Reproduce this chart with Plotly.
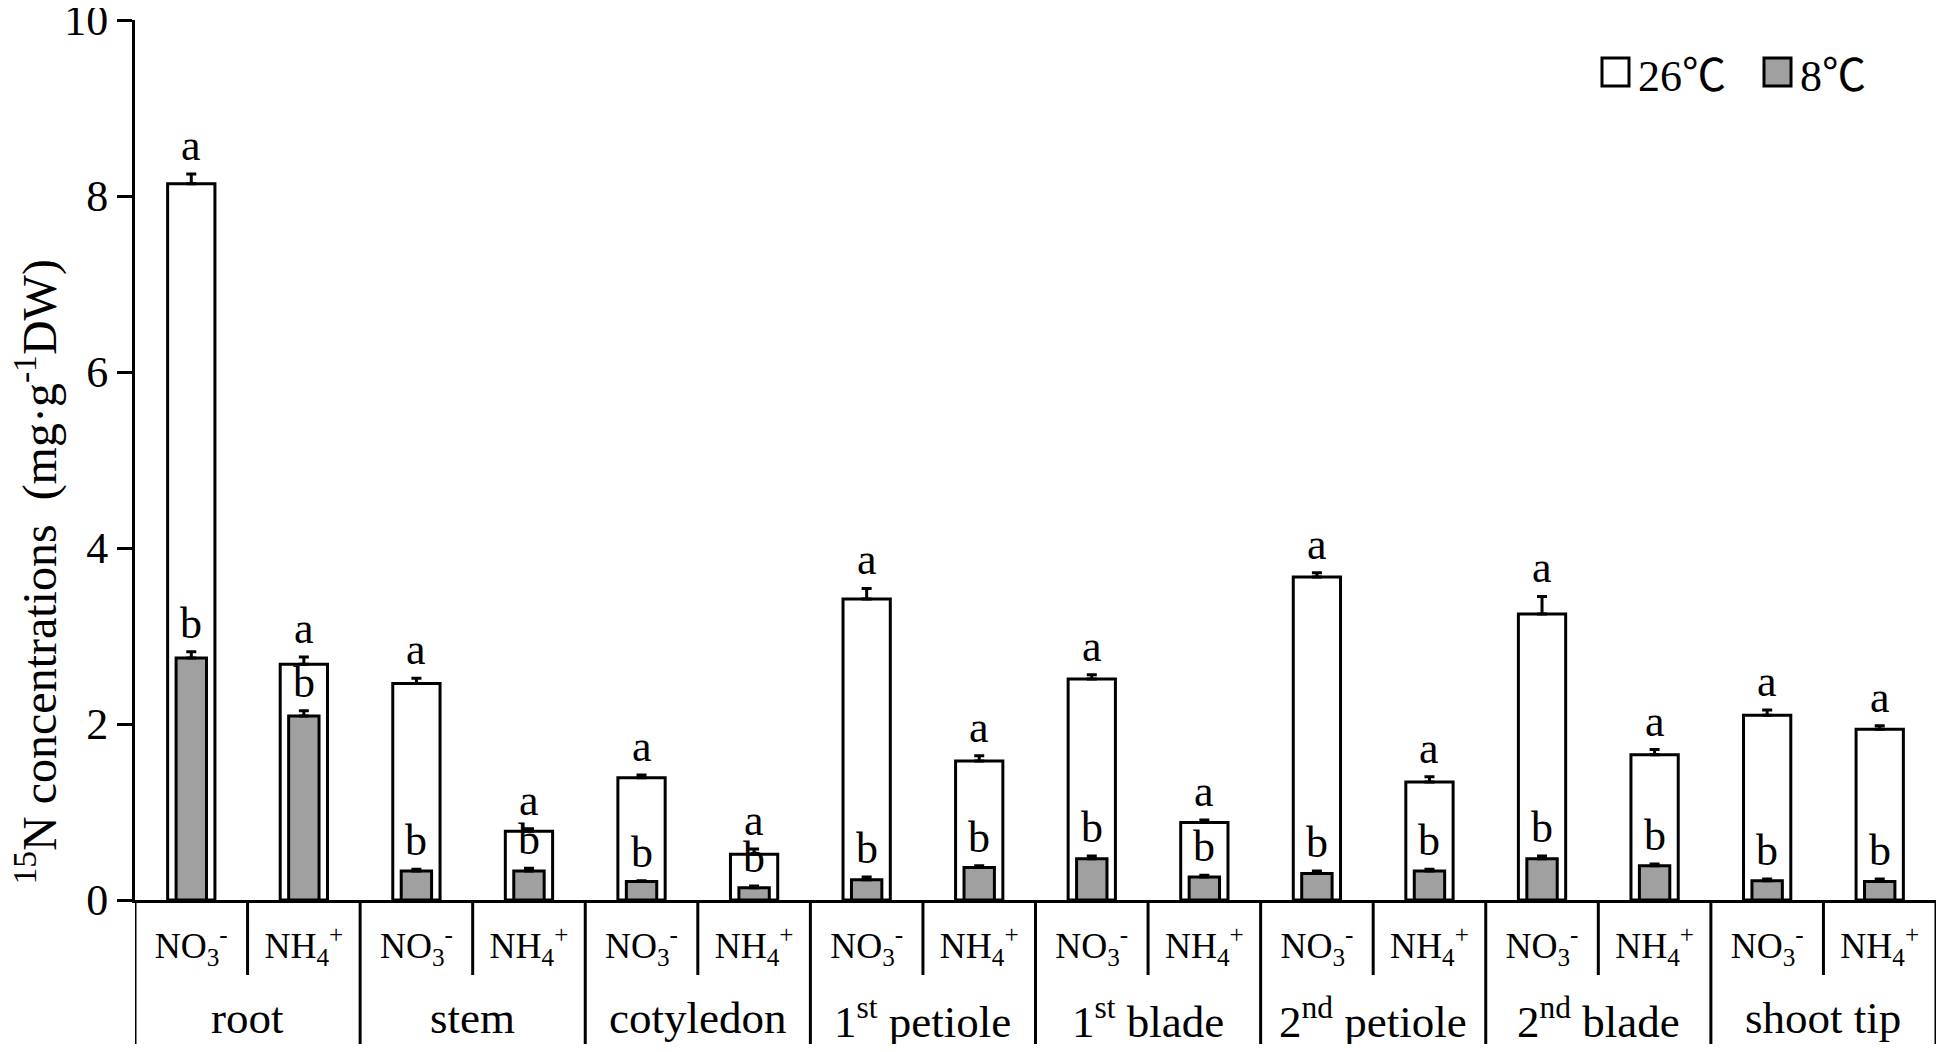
import plotly.graph_objects as go

# ---------------- data ----------------
organs = ["root", "stem", "cotyledon", "1<sup>st</sup> petiole", "1<sup>st</sup> blade",
          "2<sup>nd</sup> petiole", "2<sup>nd</sup> blade", "shoot tip"]
ions = ["NO<sub>3</sub><sup>-</sup>", "NH<sub>4</sub><sup>+</sup>"]

# order: root NO3, root NH4, stem NO3, stem NH4, ...
val_26 = [8.14, 2.68, 2.46, 0.78, 1.39, 0.52, 3.42, 1.58,
          2.51, 0.88, 3.67, 1.34, 3.25, 1.65, 2.10, 1.94]
err_26 = [0.11, 0.08, 0.06, 0.03, 0.03, 0.06, 0.12, 0.06,
          0.05, 0.03, 0.05, 0.06, 0.20, 0.06, 0.06, 0.04]
val_8 = [2.75, 2.09, 0.33, 0.33, 0.21, 0.14, 0.23, 0.37,
         0.47, 0.26, 0.30, 0.33, 0.47, 0.39, 0.22, 0.21]
err_8 = [0.07, 0.06, 0.02, 0.03, 0.01, 0.02, 0.03, 0.02,
         0.03, 0.02, 0.03, 0.02, 0.03, 0.02, 0.02, 0.03]
letters_26 = ["a"] * 16
letters_8 = ["b"] * 16
series_names = ["26℃", "8℃"]

# ---------------- figure ----------------
FONT = "Liberation Serif, Times New Roman, serif"
CJK = "Noto Sans CJK SC"
OFF = 8  # default page body margin
W, H = 1930, 1036
ML, MR, MT, MB = 127, 2, 12, 144
PH = H - MT - MB
PW = W - ML - MR

def px_x(p):
    return (p - OFF - ML) / PW
def px_y(p):
    return (MT + PH - (p - OFF)) / PH

n = len(organs) * len(ions)
xs = list(range(n))
tick_text = [ions[i % len(ions)] for i in xs]

fig = go.Figure()
fig.add_trace(go.Bar(
    x=xs, y=val_26, width=0.42, name=series_names[0],
    marker=dict(color="white", line=dict(color="black", width=3)),
    error_y=dict(type="data", symmetric=False, array=err_26,
                 arrayminus=[0] * n, color="black", thickness=3, width=5),
    showlegend=False,
))
fig.add_trace(go.Bar(
    x=xs, y=val_8, width=0.27, name=series_names[1],
    marker=dict(color="#a0a0a0", line=dict(color="black", width=3)),
    error_y=dict(type="data", symmetric=False, array=err_8,
                 arrayminus=[0] * n, color="black", thickness=3, width=5),
    showlegend=False,
))

annotations = []
# significance letters
for i in xs:
    annotations.append(dict(x=i, y=val_26[i] + err_26[i], text=letters_26[i],
                            showarrow=False, yanchor="bottom", yshift=2,
                            font=dict(family=FONT, size=44, color="black")))
    annotations.append(dict(x=i, y=val_8[i] + err_8[i], text=letters_8[i],
                            showarrow=False, yanchor="bottom", yshift=2,
                            font=dict(family=FONT, size=44, color="black")))

# organ labels
for k, org in enumerate(organs):
    annotations.append(dict(x=k * 2 + 0.5, xref="x", y=px_y(1018), yref="paper",
                            text=org, showarrow=False, yanchor="middle",
                            font=dict(family=FONT, size=45, color="black")))

# y axis title
annotations.append(dict(x=px_x(OFF - 4), xref="paper",
                        y=px_y(572), yref="paper",
                        text="<sup>15</sup>N concentrations  (mg·g<sup>-1</sup>DW)",
                        textangle=-90, showarrow=False,
                        xanchor="left", yanchor="middle",
                        font=dict(family=FONT, size=48, color="black")))

# divider lines below the axis
shapes = []
for b in range(n + 1):
    xb = b - 0.5
    long_line = (b % 2 == 0)
    y1 = -MB / PH if long_line else -75 / PH
    shapes.append(dict(type="line", xref="x", yref="paper", x0=xb, x1=xb,
                       y0=0, y1=y1, line=dict(color="black", width=3)))

# manual legend
legend_items = [(1602, "white"), (1764, "#a0a0a0")]
for (x0, col), name in zip(legend_items, series_names):
    shapes.append(dict(type="rect", xref="paper", yref="paper",
                       x0=px_x(x0), x1=px_x(x0 + 27), y0=px_y(86), y1=px_y(58),
                       fillcolor=col, line=dict(color="black", width=3)))
    num, unit = name[:-1], name[-1]
    annotations.append(dict(x=px_x(x0 + 34), xref="paper", y=px_y(72), yref="paper",
                            text=f"{num}<span style='font-family:{CJK}'>{unit}</span>",
                            showarrow=False, xanchor="left", yanchor="middle",
                            font=dict(family=FONT, size=44, color="black")))

fig.update_layout(
    width=W, height=H,
    margin=dict(l=ML, r=MR, t=MT, b=MB, autoexpand=False),
    paper_bgcolor="white", plot_bgcolor="white",
    barmode="overlay",
    showlegend=False,
    annotations=annotations,
    shapes=shapes,
    xaxis=dict(range=[-0.5, n - 0.5], tickmode="array", tickvals=xs,
               ticktext=tick_text, ticks="outside", ticklen=12,
               tickcolor="rgba(0,0,0,0)", showline=True, linecolor="black",
               linewidth=3, showgrid=False, zeroline=False, automargin=False,
               tickfont=dict(family=FONT, size=36, color="black")),
    yaxis=dict(range=[0, 10], tickvals=[0, 2, 4, 6, 8, 10], ticks="outside",
               ticklen=15, tickwidth=3, tickcolor="black", showline=True,
               linecolor="black", linewidth=3, showgrid=False, zeroline=False,
               ticklabeloverflow="allow", automargin=False,
               tickfont=dict(family=FONT, size=44, color="black")),
)

fig.write_html("out.html")
